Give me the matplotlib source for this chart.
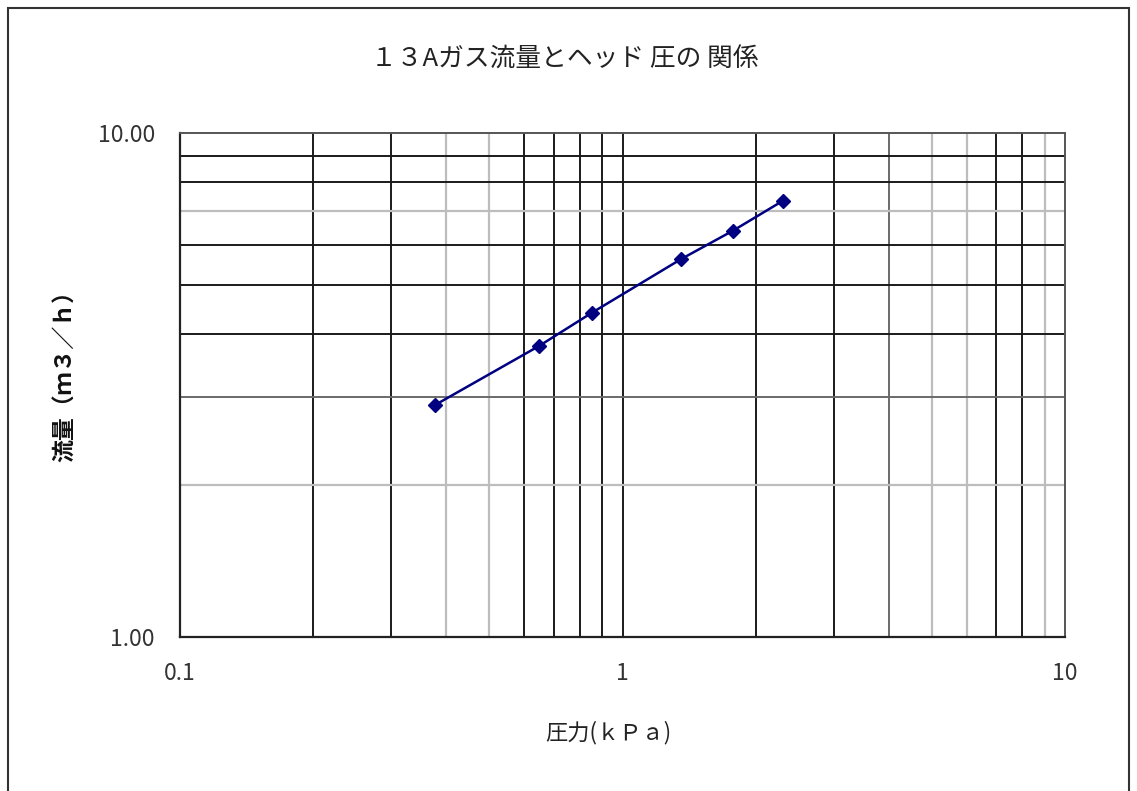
import matplotlib
matplotlib.use("Agg")
import matplotlib.pyplot as plt
from matplotlib.patches import Rectangle

plt.rcParams['font.family'] = ['Noto Sans CJK JP', 'DejaVu Sans']

# Data
pressure_kpa = [0.377, 0.648, 0.853, 1.356, 1.777, 2.306]
flow_m3h = [2.886, 3.78, 4.40, 5.62, 6.40, 7.34]

title = "１３Aガス流量とヘッド 圧の 関係"
xlabel = "圧力(ｋＰａ)"
ylabel = "流量（ｍ３／ｈ）"

x_ticks = [0.1, 1, 10]
x_ticklabels = ["0.1", "1", "10"]
y_ticks = [1, 10]
y_ticklabels = ["1.00", "10.00"]

x_grid = [0.2, 0.3, 0.4, 0.5, 0.6, 0.7, 0.8, 0.9, 1, 2, 3, 4, 5, 6, 7, 8, 9]
x_grid_shade = ['k', 'k', 'g', 'g', 'k', 'k', 'k', 'k', 'k', 'k', 'k', 'm', 'g', 'g', 'k', 'k', 'g']
y_grid = [2, 3, 4, 5, 6, 7, 8, 9]
y_grid_shade = ['g', 'm', 'k', 'k', 'k', 'g', 'k', 'k']

shade_style = {'k': ('#1a1a1a', 1.4), 'm': ('#6a6a6a', 1.4), 'g': ('#bdbdbd', 1.6)}

W, H = 1137, 791
fig = plt.figure(figsize=(W / 100, H / 100), dpi=100)
fig.patch.set_facecolor('white')

# outer chart frame
fig.patches.append(Rectangle((8 / W, -0.01), (1129 - 8) / W, 1.01 - 8 / H,
                             transform=fig.transFigure, fill=False,
                             edgecolor='#333333', linewidth=1.5))

ax = fig.add_axes([180 / W, 1 - 637 / H, (1065 - 180) / W, (637 - 133) / H])
ax.set_xscale('log')
ax.set_yscale('log')
ax.set_xlim(0.1, 10)
ax.set_ylim(1, 10)

for v, s in zip(x_grid, x_grid_shade):
    c, lw = shade_style[s]
    ax.axvline(v, color=c, linewidth=lw, zorder=1)
for v, s in zip(y_grid, y_grid_shade):
    c, lw = shade_style[s]
    ax.axhline(v, color=c, linewidth=lw, zorder=1)

ax.plot(pressure_kpa, flow_m3h, color='#000080', linewidth=1.8,
        marker='D', markersize=7, markerfacecolor='#000080',
        markeredgecolor='#000080', zorder=3)

ax.set_xticks(x_ticks)
ax.set_xticklabels(x_ticklabels)
ax.set_yticks(y_ticks)
ax.set_yticklabels(y_ticklabels)
ax.xaxis.set_minor_locator(matplotlib.ticker.NullLocator())
ax.yaxis.set_minor_locator(matplotlib.ticker.NullLocator())
ax.tick_params(axis='both', length=0, labelsize=16.5, labelcolor='#333333')
ax.tick_params(axis='x', pad=18)
ax.tick_params(axis='y', pad=18)

for side in ['left', 'bottom']:
    ax.spines[side].set_color('#222222')
    ax.spines[side].set_linewidth(1.6)
for side in ['top', 'right']:
    ax.spines[side].set_color('#555555')
    ax.spines[side].set_linewidth(1.4)

fig.text(565 / W, 1 - 60 / H, title, ha='center', va='center',
         fontsize=18.5, color='#222222')
fig.text(608 / W, 1 - 733 / H, xlabel, ha='center', va='center',
         fontsize=16, color='#222222')
fig.text(66 / W, 1 - 370 / H, ylabel, ha='center', va='center',
         rotation=90, fontsize=16.5, color='#111111', fontweight='bold')

fig.savefig('out.png', dpi=100, facecolor='white')
